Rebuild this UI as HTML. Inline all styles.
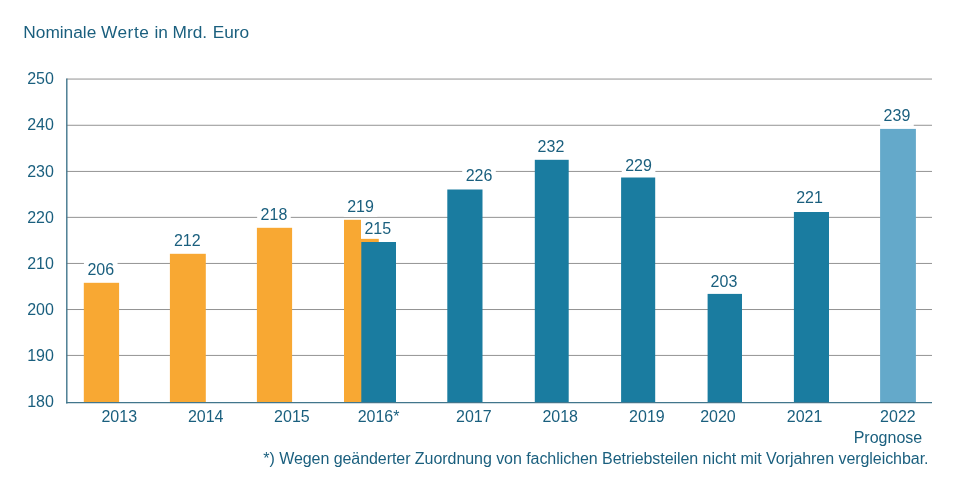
<!DOCTYPE html><html><head><meta charset="utf-8"><style>html,body{margin:0;padding:0;background:#fff;width:969px;height:479px;overflow:hidden}svg{display:block;will-change:transform}text{font-family:"Liberation Sans",sans-serif;fill:#1A5F7E}</style></head><body>
<svg width="969" height="479" viewBox="0 0 969 479">
<rect width="969" height="479" fill="#fff"/>
<text y="37.75" font-size="17.3"><tspan x="23.3">Nominale</tspan><tspan x="100.9" letter-spacing="0.55">Werte</tspan><tspan letter-spacing="0"> </tspan><tspan x="154.5">in</tspan><tspan x="172.6">Mrd.</tspan><tspan x="212.7">Euro</tspan></text>
<line x1="66.6" y1="79.05" x2="932" y2="79.05" stroke="#939393" stroke-width="1"/>
<line x1="66.6" y1="125.27" x2="932" y2="125.27" stroke="#939393" stroke-width="1"/>
<line x1="66.6" y1="171.43" x2="932" y2="171.43" stroke="#939393" stroke-width="1"/>
<line x1="66.6" y1="217.36" x2="932" y2="217.36" stroke="#939393" stroke-width="1"/>
<line x1="66.6" y1="263.45" x2="932" y2="263.45" stroke="#939393" stroke-width="1"/>
<line x1="66.6" y1="309.53" x2="932" y2="309.53" stroke="#939393" stroke-width="1"/>
<line x1="66.6" y1="355.43" x2="932" y2="355.43" stroke="#939393" stroke-width="1"/>
<text x="53.9" y="407.00" font-size="16" text-anchor="end">180</text>
<text x="53.9" y="361.00" font-size="16" text-anchor="end">190</text>
<text x="53.9" y="315.00" font-size="16" text-anchor="end">200</text>
<text x="53.9" y="269.00" font-size="16" text-anchor="end">210</text>
<text x="53.9" y="223.00" font-size="16" text-anchor="end">220</text>
<text x="53.9" y="177.00" font-size="16" text-anchor="end">230</text>
<text x="53.9" y="130.05" font-size="16" text-anchor="end">240</text>
<text x="53.9" y="84.05" font-size="16" text-anchor="end">250</text>
<rect x="83.80" y="282.80" width="35.30" height="119.60" fill="#F8A833"/>
<rect x="169.90" y="253.80" width="35.90" height="148.60" fill="#F8A833"/>
<rect x="256.90" y="227.80" width="35.20" height="174.60" fill="#F8A833"/>
<rect x="344.00" y="219.80" width="34.80" height="182.60" fill="#F8A833"/>
<rect x="361.30" y="242.00" width="34.70" height="160.40" fill="#1A7CA0"/>
<rect x="447.30" y="189.50" width="35.20" height="212.90" fill="#1A7CA0"/>
<rect x="534.80" y="159.80" width="33.90" height="242.60" fill="#1A7CA0"/>
<rect x="621.10" y="177.50" width="34.10" height="224.90" fill="#1A7CA0"/>
<rect x="707.60" y="293.90" width="34.40" height="108.50" fill="#1A7CA0"/>
<rect x="793.90" y="212.00" width="35.10" height="190.40" fill="#1A7CA0"/>
<rect x="880.10" y="128.90" width="35.80" height="273.50" fill="#64A9CA"/>
<line x1="66.8" y1="78.50" x2="66.8" y2="403.50" stroke="#42768C" stroke-width="1.4"/>
<line x1="66.1" y1="402.65" x2="932" y2="402.65" stroke="#42768C" stroke-width="1.4"/>
<rect x="83.95" y="260.10" width="33.6" height="19.95" fill="#fff"/>
<text x="100.75" y="274.90" font-size="16" text-anchor="middle">206</text>
<rect x="170.50" y="231.10" width="33.6" height="19.95" fill="#fff"/>
<text x="187.30" y="245.90" font-size="16" text-anchor="middle">212</text>
<rect x="257.15" y="205.10" width="33.6" height="19.95" fill="#fff"/>
<text x="273.95" y="219.90" font-size="16" text-anchor="middle">218</text>
<rect x="343.75" y="196.90" width="33.6" height="19.95" fill="#fff"/>
<text x="360.55" y="211.70" font-size="16" text-anchor="middle">219</text>
<rect x="361.00" y="218.90" width="33.6" height="19.95" fill="#fff"/>
<text x="377.80" y="233.70" font-size="16" text-anchor="middle">215</text>
<rect x="462.20" y="166.10" width="33.6" height="19.95" fill="#fff"/>
<text x="479.00" y="180.90" font-size="16" text-anchor="middle">226</text>
<rect x="534.15" y="136.90" width="33.6" height="19.95" fill="#fff"/>
<text x="550.95" y="151.70" font-size="16" text-anchor="middle">232</text>
<rect x="621.75" y="155.80" width="33.6" height="19.95" fill="#fff"/>
<text x="638.55" y="170.60" font-size="16" text-anchor="middle">229</text>
<rect x="707.15" y="272.00" width="33.6" height="19.95" fill="#fff"/>
<text x="723.95" y="286.80" font-size="16" text-anchor="middle">203</text>
<rect x="792.75" y="187.90" width="33.6" height="19.95" fill="#fff"/>
<text x="809.55" y="202.70" font-size="16" text-anchor="middle">221</text>
<rect x="880.15" y="106.00" width="33.6" height="19.95" fill="#fff"/>
<text x="896.95" y="120.80" font-size="16" text-anchor="middle">239</text>
<text x="119.25" y="422.4" font-size="16" text-anchor="middle">2013</text>
<text x="205.70" y="422.4" font-size="16" text-anchor="middle">2014</text>
<text x="291.90" y="422.4" font-size="16" text-anchor="middle">2015</text>
<text x="378.55" y="422.4" font-size="16" text-anchor="middle">2016*</text>
<text x="473.85" y="422.4" font-size="16" text-anchor="middle">2017</text>
<text x="560.20" y="422.4" font-size="16" text-anchor="middle">2018</text>
<text x="646.90" y="422.4" font-size="16" text-anchor="middle">2019</text>
<text x="717.95" y="422.4" font-size="16" text-anchor="middle">2020</text>
<text x="804.60" y="422.4" font-size="16" text-anchor="middle">2021</text>
<text x="897.90" y="422.4" font-size="16" text-anchor="middle">2022</text>
<text x="887.94" y="442.6" font-size="16" text-anchor="middle">Prognose</text>
<text x="263.3" y="463.6" font-size="16" textLength="665.2" lengthAdjust="spacing">*) Wegen geänderter Zuordnung von fachlichen Betriebsteilen nicht mit Vorjahren vergleichbar.</text>
</svg></body></html>
